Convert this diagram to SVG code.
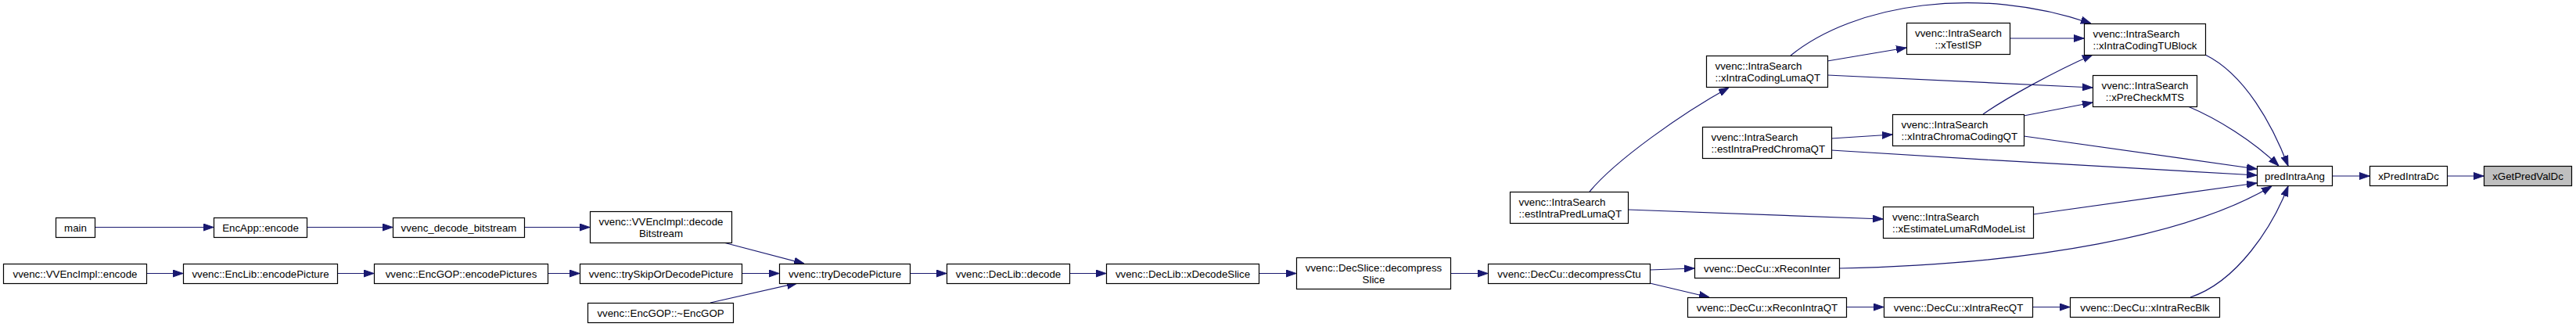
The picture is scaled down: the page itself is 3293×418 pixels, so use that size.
<svg xmlns="http://www.w3.org/2000/svg" width="3293" height="418" viewBox="0 0 3293 418">
<style>
.node rect{fill:#ffffff;stroke:#000000;stroke-width:1.2}
.node.cur rect{fill:#bfbfbf}
.node text{font-family:"Liberation Sans",Arial,Helvetica,sans-serif;font-size:13.3px;fill:#000000}
.c{text-anchor:middle}
.l{text-anchor:start}
.edges path{fill:none;stroke:#191970;stroke-width:1.2;marker-end:url(#ah)}
</style>
<defs>
<marker id="ah" viewBox="0 0 13 10" refX="13" refY="5" markerWidth="13" markerHeight="10" markerUnits="userSpaceOnUse" orient="auto">
<path d="M0,0.5 L13,5 L0,9.5 Z" fill="#191970" stroke="#191970" stroke-width="1"/>
</marker>
</defs>
<rect x="0" y="0" width="3293" height="418" fill="#ffffff"/>
<g class="edges" id="edges">
<path d="M121,290.5 L273,290.5"/>
<path d="M392,290.5 L502,290.5"/>
<path d="M670,290.5 L754,290.5"/>
<path d="M187,349.5 L234,349.5"/>
<path d="M431,349.5 L478,349.5"/>
<path d="M700,349.5 L741,349.5"/>
<path d="M925,310 L1028,337"/>
<path d="M948,349.5 L996,349.5"/>
<path d="M908,387 L1019,362"/>
<path d="M1163,349.5 L1210,349.5"/>
<path d="M1367,349.5 L1414,349.5"/>
<path d="M1609,349.5 L1657,349.5"/>
<path d="M1854,349.5 L1902,349.5"/>
<path d="M2109,345 L2166,343"/>
<path d="M2109,362 L2185,380"/>
<path d="M2360,392.5 L2408,392.5"/>
<path d="M2598,392.5 L2646,392.5"/>
<path d="M2800,380 C2860,360 2905,290 2925,238"/>
<path d="M2351,343 C2600,338 2800,300 2904,238"/>
<path d="M2819,70 C2870,95 2905,160 2925,212"/>
<path d="M2797,136 C2835,152 2880,180 2913,212"/>
<path d="M2289,71 C2370,5 2530,-20 2673,30"/>
<path d="M2336,78 L2437,61"/>
<path d="M2336,96 L2675,112"/>
<path d="M2569,49 L2664,49"/>
<path d="M2535,146 C2565,125 2625,92 2675,70"/>
<path d="M2587,148 L2675,131"/>
<path d="M2587,174 L2885,216"/>
<path d="M2341,177 L2419,172"/>
<path d="M2341,192 C2520,204 2720,214 2885,224"/>
<path d="M2032,245 C2065,205 2150,145 2210,112"/>
<path d="M2081,268 L2407,280"/>
<path d="M2599,274 L2885,234"/>
<path d="M2981,225 L3029,225"/>
<path d="M3128,225 L3175,225"/>
</g>
<g class="node" id="n_main"><rect x="71.5" y="278.5" width="50" height="25"/><text class="c" x="96.5" y="295.5">main</text></g>
<g class="node" id="n_encapp"><rect x="273.5" y="278.5" width="119" height="25"/><text class="c" x="333" y="295.5">EncApp::encode</text></g>
<g class="node" id="n_vvenc_decode_bitstream"><rect x="502.5" y="278.5" width="168" height="25"/><text class="c" x="586.5" y="295.5">vvenc_decode_bitstream</text></g>
<g class="node" id="n_decodeBitstream"><rect x="754.5" y="270.5" width="181" height="40"/><text class="c" x="845" y="287.5">vvenc::VVEncImpl::decode</text><text class="c" x="845" y="302.5">Bitstream</text></g>
<g class="node" id="n_vvencimpl_encode"><rect x="4.5" y="337.5" width="183" height="25"/><text class="c" x="96" y="354.5">vvenc::VVEncImpl::encode</text></g>
<g class="node" id="n_encodePicture"><rect x="234.5" y="337.5" width="197" height="25"/><text class="c" x="333" y="354.5">vvenc::EncLib::encodePicture</text></g>
<g class="node" id="n_encodePictures"><rect x="478.5" y="337.5" width="222" height="25"/><text class="c" x="589.5" y="354.5">vvenc::EncGOP::encodePictures</text></g>
<g class="node" id="n_trySkip"><rect x="741.5" y="337.5" width="207" height="25"/><text class="c" x="845" y="354.5">vvenc::trySkipOrDecodePicture</text></g>
<g class="node" id="n_dtor"><rect x="751.5" y="387.5" width="186" height="25"/><text class="c" x="844.5" y="404.5">vvenc::EncGOP::~EncGOP</text></g>
<g class="node" id="n_tryDecode"><rect x="996.5" y="337.5" width="167" height="25"/><text class="c" x="1080" y="354.5">vvenc::tryDecodePicture</text></g>
<g class="node" id="n_declib_decode"><rect x="1210.5" y="337.5" width="157" height="25"/><text class="c" x="1289" y="354.5">vvenc::DecLib::decode</text></g>
<g class="node" id="n_xDecodeSlice"><rect x="1414.5" y="337.5" width="195" height="25"/><text class="c" x="1512" y="354.5">vvenc::DecLib::xDecodeSlice</text></g>
<g class="node" id="n_decompressSlice"><rect x="1657.5" y="329.5" width="197" height="40"/><text class="c" x="1756" y="346.5">vvenc::DecSlice::decompress</text><text class="c" x="1756" y="361.5">Slice</text></g>
<g class="node" id="n_decompressCtu"><rect x="1902.5" y="337.5" width="207" height="25"/><text class="c" x="2006" y="354.5">vvenc::DecCu::decompressCtu</text></g>
<g class="node" id="n_estIntraPredLumaQT"><rect x="1930.5" y="245.5" width="151" height="40"/><text class="l" x="1941.5" y="262.5">vvenc::IntraSearch</text><text class="l" x="1941.5" y="277.5">::estIntraPredLumaQT</text></g>
<g class="node" id="n_xIntraCodingLumaQT"><rect x="2181.5" y="71.5" width="155" height="40"/><text class="l" x="2192.5" y="88.5">vvenc::IntraSearch</text><text class="l" x="2192.5" y="103.5">::xIntraCodingLumaQT</text></g>
<g class="node" id="n_estIntraPredChromaQT"><rect x="2176.5" y="162.5" width="165" height="40"/><text class="l" x="2187.5" y="179.5">vvenc::IntraSearch</text><text class="l" x="2187.5" y="194.5">::estIntraPredChromaQT</text></g>
<g class="node" id="n_xTestISP"><rect x="2437.5" y="29.5" width="132" height="40"/><text class="c" x="2503.5" y="46.5">vvenc::IntraSearch</text><text class="c" x="2503.5" y="61.5">::xTestISP</text></g>
<g class="node" id="n_xIntraChromaCodingQT"><rect x="2419.5" y="146.5" width="168" height="40"/><text class="l" x="2430.5" y="163.5">vvenc::IntraSearch</text><text class="l" x="2430.5" y="178.5">::xIntraChromaCodingQT</text></g>
<g class="node" id="n_xEstimateLumaRdModeList"><rect x="2407.5" y="264.5" width="192" height="40"/><text class="l" x="2419" y="281.5">vvenc::IntraSearch</text><text class="l" x="2419" y="296.5">::xEstimateLumaRdModeList</text></g>
<g class="node" id="n_xReconInter"><rect x="2166.5" y="330.5" width="185" height="25"/><text class="c" x="2259" y="347.5">vvenc::DecCu::xReconInter</text></g>
<g class="node" id="n_xReconIntraQT"><rect x="2157.5" y="380.5" width="203" height="25"/><text class="c" x="2259" y="397.5">vvenc::DecCu::xReconIntraQT</text></g>
<g class="node" id="n_xIntraRecQT"><rect x="2408.5" y="380.5" width="190" height="25"/><text class="c" x="2503.5" y="397.5">vvenc::DecCu::xIntraRecQT</text></g>
<g class="node" id="n_xIntraCodingTUBlock"><rect x="2664.5" y="30.5" width="155" height="40"/><text class="l" x="2675.5" y="47.5">vvenc::IntraSearch</text><text class="l" x="2675.5" y="62.5">::xIntraCodingTUBlock</text></g>
<g class="node" id="n_xPreCheckMTS"><rect x="2675.5" y="96.5" width="133" height="40"/><text class="c" x="2742" y="113.5">vvenc::IntraSearch</text><text class="c" x="2742" y="128.5">::xPreCheckMTS</text></g>
<g class="node" id="n_xIntraRecBlk"><rect x="2646.5" y="380.5" width="191" height="25"/><text class="c" x="2742" y="397.5">vvenc::DecCu::xIntraRecBlk</text></g>
<g class="node" id="n_predIntraAng"><rect x="2885.5" y="212.5" width="96" height="25"/><text class="c" x="2933.5" y="229.5">predIntraAng</text></g>
<g class="node" id="n_xPredIntraDc"><rect x="3029.5" y="212.5" width="99" height="25"/><text class="c" x="3079" y="229.5">xPredIntraDc</text></g>
<g class="node cur" id="n_xGetPredValDc"><rect x="3175.5" y="212.5" width="112" height="25"/><text class="c" x="3231.5" y="229.5">xGetPredValDc</text></g>
</svg>
